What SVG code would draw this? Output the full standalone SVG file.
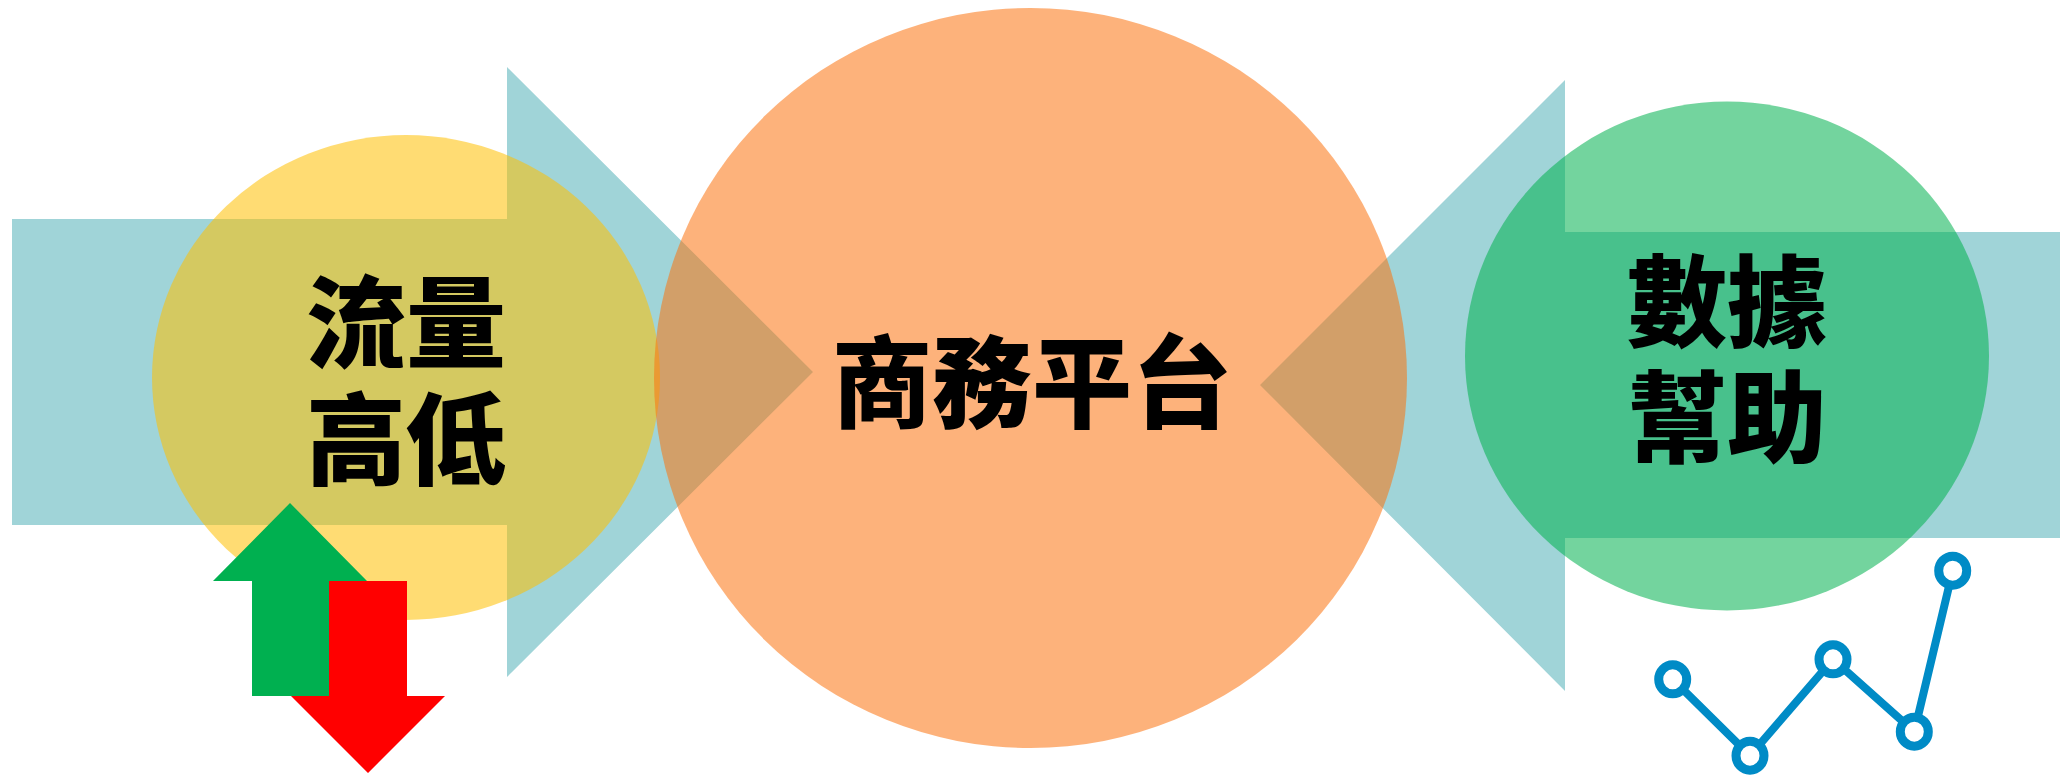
<svg xmlns="http://www.w3.org/2000/svg" width="2071" height="775" viewBox="0 0 2071 775">
<style>
.teal{fill:#a0d4d8}
.lbl{font-family:"Noto Sans CJK TC","Noto Sans CJK SC",sans-serif;font-weight:900;font-size:100px;fill:#000;text-anchor:middle}
.ring{fill:#fff;stroke:#008bc6;stroke-width:9}
.cline{fill:none;stroke:#008bc6;stroke-width:8;stroke-linejoin:round}
</style>
<rect width="2071" height="775" fill="#fff"/>
<g id="connectors">
<polygon class="teal" points="12,219 507,219 507,67 813,372 507,677 507,525 12,525"/>
<polygon class="teal" points="2060,232 1565,232 1565,80 1260,385 1565,691 1565,538 2060,538"/>
</g>
<g id="node-traffic">
<ellipse cx="406" cy="377.5" rx="254" ry="242.5" fill="#ffc000" fill-opacity="0.55"/>
<text class="lbl" x="406" y="360">流量</text>
<text class="lbl" x="406" y="477">高低</text>
</g>
<g id="node-platform">
<ellipse cx="1030.5" cy="378" rx="376.5" ry="370" fill="#fc730f" fill-opacity="0.55"/>
<text class="lbl" x="1032" y="420">商務平台</text>
</g>
<g id="node-data">
<ellipse cx="1727" cy="356" rx="262" ry="254.5" fill="#00b04e" fill-opacity="0.55"/>
<text class="lbl" x="1727" y="339">數據</text>
<text class="lbl" x="1727" y="455">幫助</text>
</g>
<g id="updown-arrows">
<polygon fill="#00b050" points="290,503 367,581 329,581 329,696 252,696 252,581 213,581"/>
<polygon fill="#ff0000" points="329,581 407,581 407,696 445,696 368,773 291,696 329,696"/>
</g>
<g id="line-chart">
<polyline class="cline" points="1672.7,679.3 1750,755.7 1833,659.3 1914.3,731.7 1952.7,570.7"/>
<ellipse class="ring" cx="1672.7" cy="679.3" rx="14" ry="14.5"/>
<ellipse class="ring" cx="1750" cy="755.7" rx="14" ry="14.5"/>
<ellipse class="ring" cx="1833" cy="659.3" rx="14" ry="14.5"/>
<ellipse class="ring" cx="1914.3" cy="731.7" rx="14" ry="14.5"/>
<ellipse class="ring" cx="1952.7" cy="570.7" rx="14" ry="14.5"/>
</g>
</svg>
